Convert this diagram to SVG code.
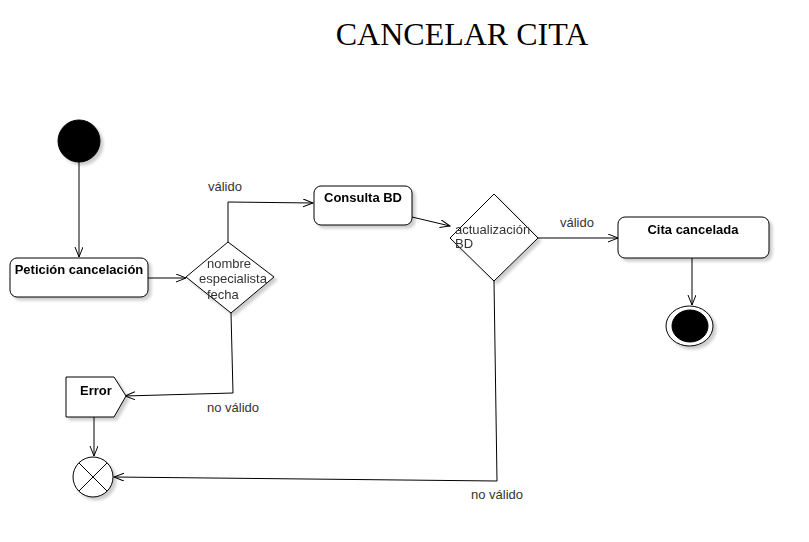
<svg xmlns="http://www.w3.org/2000/svg" width="809" height="542" viewBox="0 0 809 542">
<style>
.shape{fill:#fff;stroke:#000;stroke-width:1}
.lbl{font-family:"Liberation Sans",Arial,sans-serif;font-size:13px;fill:#333}
.bold{font-family:"Liberation Sans",Arial,sans-serif;font-size:13px;font-weight:bold;fill:#000}
.edge{fill:none;stroke:#000;stroke-width:1}
.sh{filter:url(#shadow)}
</style>
<defs>
<filter id="shadow" x="-20%" y="-20%" width="150%" height="150%">
<feOffset in="SourceAlpha" dx="3" dy="3" result="o"/>
<feGaussianBlur in="o" stdDeviation="1.5" result="b"/>
<feComponentTransfer in="b" result="c"><feFuncA type="linear" slope="0.2"/></feComponentTransfer>
<feMerge><feMergeNode in="c"/><feMergeNode in="SourceGraphic"/></feMerge>
</filter>
<marker id="arr" markerUnits="userSpaceOnUse" markerWidth="12" markerHeight="10" refX="10" refY="4" orient="auto">
<path d="M0,0 L10,4 L0,8" fill="none" stroke="#000" stroke-width="1"/>
</marker>
</defs>
<text x="462" y="45" text-anchor="middle" font-family="'Liberation Serif','Times New Roman',serif" font-size="32" fill="#000">CANCELAR CITA</text>

<g id="connectors">
<path class="edge" d="M79,162 L79,257" marker-end="url(#arr)"/>
<path class="edge" d="M148,278 L186,278" marker-end="url(#arr)"/>
<path class="edge" d="M228,242 L228,202 L313,203" marker-end="url(#arr)"/>
<path class="edge" d="M412,217 L450,226" marker-end="url(#arr)"/>
<path class="edge" d="M538,238 L618,238" marker-end="url(#arr)"/>
<path class="edge" d="M692,258 L692,305" marker-end="url(#arr)"/>
<path class="edge" d="M231,313 L233,393 L125,396" marker-end="url(#arr)"/>
<path class="edge" d="M94,417 L94,456" marker-end="url(#arr)"/>
<path class="edge" d="M494,281 L497,481 L114,477" marker-end="url(#arr)"/>
<text class="lbl" x="208" y="191">válido</text>
<text class="lbl" x="560" y="227">válido</text>
<text class="lbl" x="207" y="412">no válido</text>
<text class="lbl" x="471" y="499">no válido</text>
</g>

<g id="start" class="sh">
<circle cx="79" cy="141" r="21" fill="#000" stroke="#000"/>
</g>

<g id="peticion" class="sh">
<rect class="shape" x="10" y="258" width="138" height="39" rx="7"/>
<text class="bold" x="79" y="274" text-anchor="middle">Petición cancelación</text>
</g>

<g id="decision1" class="sh">
<polygon class="shape" points="186,277 228,242 274,277 231,313"/>
<text class="lbl" x="207" y="268">nombre</text>
<text class="lbl" x="199" y="283">especialista</text>
<text class="lbl" x="207" y="299">fecha</text>
</g>

<g id="consulta" class="sh">
<rect class="shape" x="314" y="186" width="98" height="39" rx="7"/>
<text class="bold" x="363" y="202" text-anchor="middle">Consulta BD</text>
</g>

<g id="decision2" class="sh">
<polygon class="shape" points="450,238 494,194 538,238 494,281"/>
<text class="lbl" x="455" y="234">actualización</text>
<text class="lbl" x="455" y="248">BD</text>
</g>

<g id="cita" class="sh">
<rect class="shape" x="618" y="217" width="151" height="41" rx="7"/>
<text class="bold" x="693" y="234" text-anchor="middle">Cita cancelada</text>
</g>

<g id="end" class="sh">
<ellipse cx="689.5" cy="326" rx="23.5" ry="20" fill="#fff" stroke="#000"/>
<ellipse cx="690" cy="326" rx="18" ry="16" fill="#000" stroke="#000"/>
</g>

<g id="error" class="sh">
<polygon class="shape" points="66,377 114,377 126,396 114,417 66,417"/>
<text class="bold" x="80" y="395">Error</text>
</g>

<g id="flowfinal" class="sh">
<circle class="shape" cx="93" cy="477" r="20"/>
<path d="M78.9,462.9 L107.1,491.1 M107.1,462.9 L78.9,491.1" stroke="#000" stroke-width="1" fill="none"/>
</g>
</svg>
